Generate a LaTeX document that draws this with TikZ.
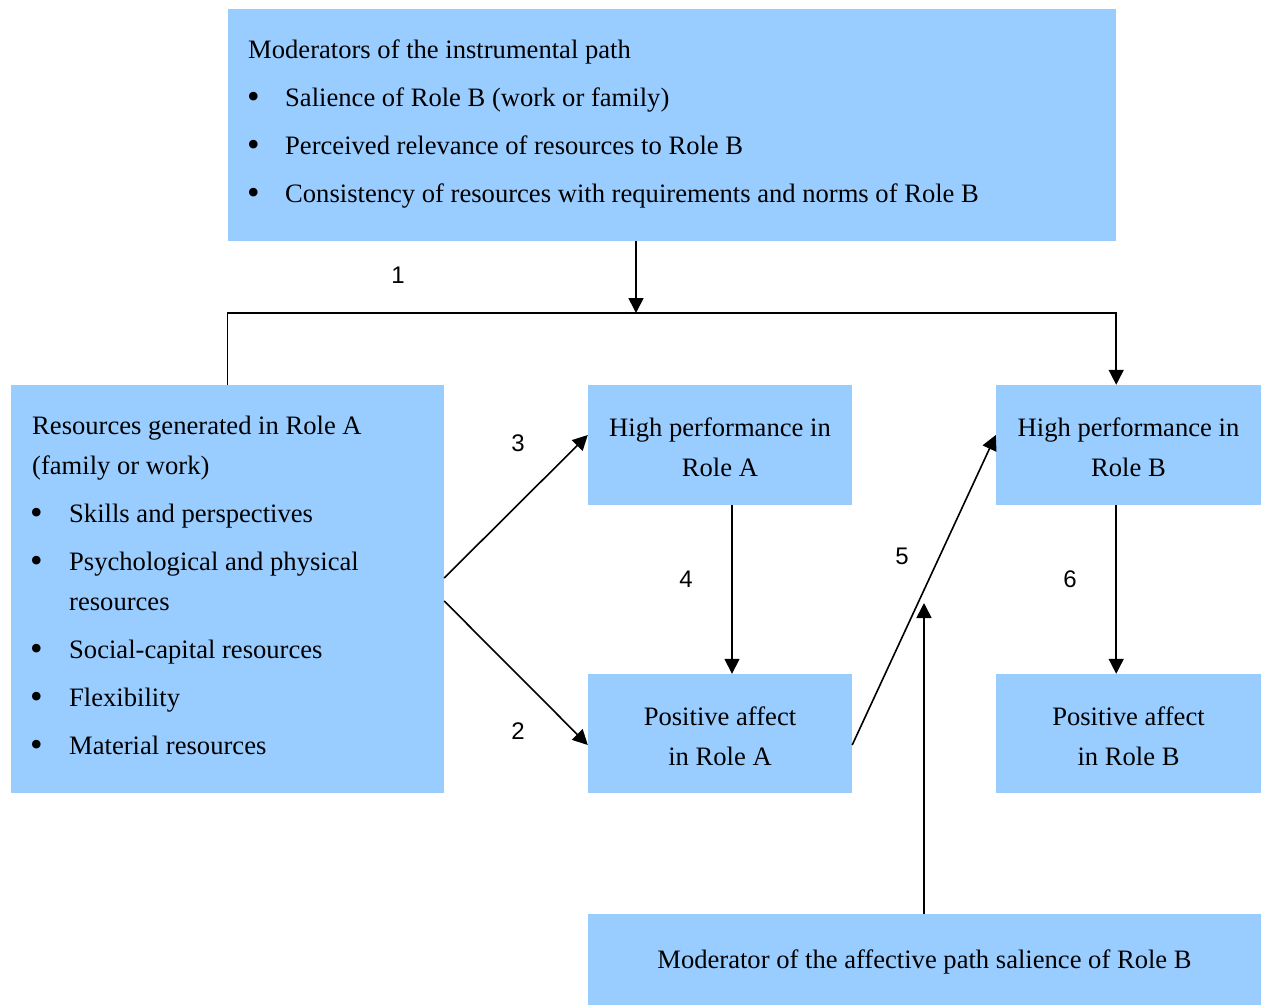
\documentclass[tikz,border=0pt]{standalone}
\usepackage{fontspec}
\setmainfont{Liberation Serif}
\newfontfamily\labelfont{Liberation Sans}
\usetikzlibrary{arrows.meta,calc}
\definecolor{boxblue}{HTML}{99CCFF}
\newcommand{\bul}{\raisebox{-2pt}{\scalebox{1.35}{\textbullet}}}
\newcommand{\topstrut}{\rule{0pt}{24pt}}
\tikzset{
  box/.style={rectangle, fill=boxblue, draw=none, inner sep=0pt, align=center,
    font=\fontsize{26.6}{40}\selectfont},
  line/.style={anchor=base west, inner sep=0pt, font=\fontsize{26.6}{40}\selectfont},
  conn/.style={line width=1.6pt},
  arr/.style={conn, -{Triangle[length=15pt,width=15pt]}},
  num/.style={inner sep=0pt, font=\labelfont\fontsize{24}{28}\selectfont}
}
\begin{document}
\begin{tikzpicture}[x=1pt,y=-1pt]
\useasboundingbox (0,0) rectangle (1264,1005);

% boxes
\node[box, minimum width=888pt, minimum height=232pt] (mods) at (672,125) {};
\node[box, minimum width=433pt, minimum height=408pt] (res) at (227.5,589) {};
\node[box, minimum width=264pt, minimum height=120pt] (hpa) at (720,445)
  {\topstrut High performance in\\Role A};
\node[box, minimum width=264pt, minimum height=119pt] (paa) at (720,733.5)
  {\topstrut Positive affect\\in Role A};
\node[box, minimum width=265pt, minimum height=120pt] (hpb) at (1128.5,445)
  {\topstrut High performance in\\Role B};
\node[box, minimum width=265pt, minimum height=119pt] (pab) at (1128.5,733.5)
  {\topstrut Positive affect\\in Role B};
\node[box, minimum width=673pt, minimum height=91pt] (modaff) at (924.5,959.5)
  {\topstrut Moderator of the affective path salience of Role B};

% text of the instrumental-path moderators
\node[line] (m0) at (248,58) {Moderators of the instrumental path};
\node[line] (b1) at (247,106) {\bul};
\node[line] (m1) at (285,106) {Salience of Role B (work or family)};
\node[line] (b2) at (247,154) {\bul};
\node[line] (m2) at (285,154) {Perceived relevance of resources to Role B};
\node[line] (b3) at (247,202) {\bul};
\node[line] (m3) at (285,202) {Consistency of resources with requirements and norms of Role B};

% text of the resources box
\node[line] (r0) at (32,434) {Resources generated in Role A};
\node[line] (r0b) at (32,474) {(family or work)};
\node[line] (rb1) at (30,522) {\bul};
\node[line] (r1) at (69,522) {Skills and perspectives};
\node[line] (rb2) at (30,570) {\bul};
\node[line] (r2) at (69,570) {Psychological and physical};
\node[line] (r2b) at (69,610) {resources};
\node[line] (rb3) at (30,658) {\bul};
\node[line] (r3) at (69,658) {Social-capital resources};
\node[line] (rb4) at (30,706) {\bul};
\node[line] (r4) at (69,706) {Flexibility};
\node[line] (rb5) at (30,754) {\bul};
\node[line] (r5) at (69,754) {Material resources};

% connectors
\coordinate (j) at (636,313);
\coordinate (m5) at (924,603);
\draw[arr] (j |- mods.south) -- (j);
\draw[arr] (res.north) |- (mods.east |- j) -- (hpb.north -| mods.east);
\draw[arr] ($(res.east)+(0,-11)$) -- ($(hpa.west)+(0,-10)$);
\draw[arr] ($(res.east)+(0,12)$) -- ($(paa.west)+(0,11.5)$);
\draw[arr] ($(hpa.south)+(12,0)$) -- ($(paa.north)+(12,0)$);
\draw[arr] ($(paa.east)+(0,11.5)$) -- ($(hpb.west)+(0,-10)$);
\draw[arr] (modaff.north -| m5) -- (m5);
\draw[arr] (mods.east |- hpb.south) -- (mods.east |- pab.north);

% path numbers
\node[num] (n1) at (398,275) {1};
\node[num] (n3) at (518,443) {3};
\node[num] (n2) at (518,731) {2};
\node[num] (n4) at (686,579) {4};
\node[num] (n5) at (902,556) {5};
\node[num] (n6) at (1070,579) {6};
\end{tikzpicture}
\end{document}
